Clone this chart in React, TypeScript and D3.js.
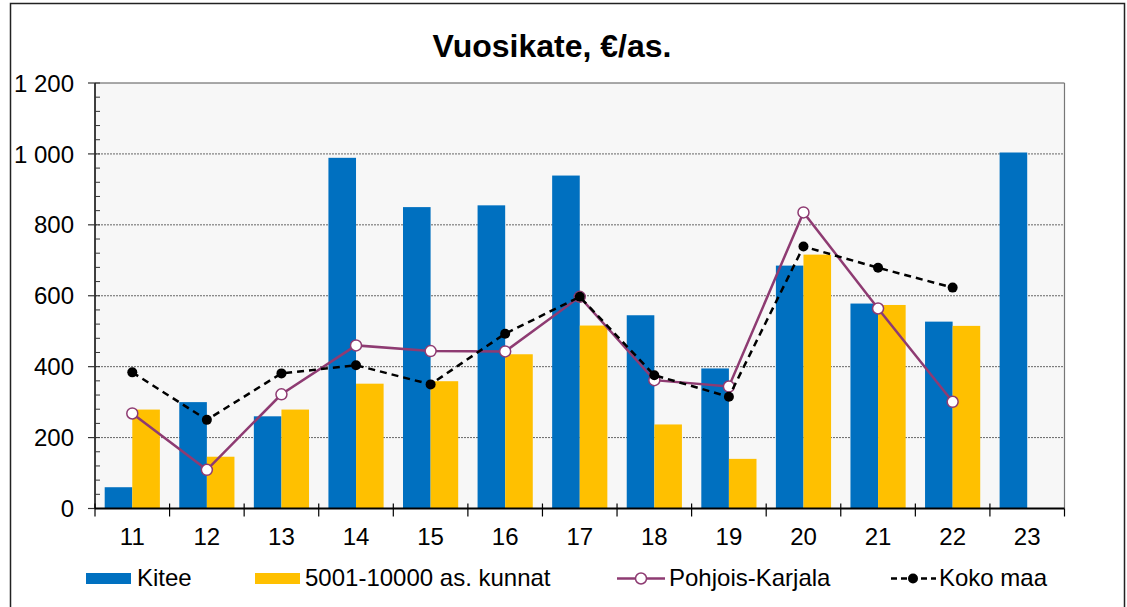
import React from "react";
import * as d3 from "d3";

const categories = ["11", "12", "13", "14", "15", "16", "17", "18", "19", "20", "21", "22", "23"];
const kitee: (number | null)[] = [60, 300, 260, 989, 850, 855, 939, 545, 395, 685, 578, 527, 1004];
const kunnat: (number | null)[] = [279, 146, 279, 352, 359, 435, 516, 237, 140, 716, 574, 515, null];
const pohjoisKarjala: (number | null)[] = [268, 109, 322, 460, 444, 443, 597, 362, 344, 835, 564, 301, null];
const kokoMaa: (number | null)[] = [384, 250, 381, 404, 350, 493, 597, 376, 315, 739, 679, 623, null];
const yTicks = [0, 200, 400, 600, 800, 1000, 1200];
const yMinorTicks = d3.range(0, 1201, 40);

const W = 1127;
const H = 607;
const left = 95;
const right = 1064.5;
const top = 83;
const bottom = 508.5;

const BLUE = "#0070C0";
const YELLOW = "#FFC000";
const PURPLE = "#8E3B72";
const FONT = "Liberation Sans, Arial, sans-serif";
const FS = 24;

const fmt = (v: number) => {
  const s = String(v);
  return s.length > 3 ? s.slice(0, s.length - 3) + " " + s.slice(-3) : s;
};

export default function App() {
  const x = d3.scaleBand<string>().domain(categories).range([left, right]).paddingInner(0.26).paddingOuter(0.13);
  const y = d3.scaleLinear().domain([0, 1200]).range([bottom, top]);
  const step = x.step();
  const bw = x.bandwidth() / 2;
  const cx = (c: string) => (x(c) as number) + x.bandwidth() / 2;

  const lineGen = d3
    .line<{ c: string; v: number | null }>()
    .defined((d) => d.v !== null)
    .x((d) => cx(d.c))
    .y((d) => y(d.v as number));

  const pkData = categories.map((c, i) => ({ c, v: pohjoisKarjala[i] }));
  const kmData = categories.map((c, i) => ({ c, v: kokoMaa[i] }));

  const boundaries = d3.range(categories.length + 1).map((i) => left + i * step);

  return (
    <svg width={W} height={H} style={{ position: "absolute", left: 0, top: 0, background: "#fff" }} fontFamily={FONT}>
      {/* outer border */}
      <rect x={10.5} y={3.5} width={1114} height={620} fill="#fff" stroke="#222" strokeWidth={1.5} />
      {/* title */}
      <text x={552} y={57} textAnchor="middle" fontSize={32} fontWeight="bold" fill="#000">
        Vuosikate, €/as.
      </text>
      {/* plot background */}
      <rect x={left} y={top} width={right - left} height={bottom - top} fill="#f7f7f7" />
      {/* gridlines */}
      {yTicks.filter((t) => t > 0 && t < 1200).map((t) => (
        <line key={"g" + t} x1={left} x2={right} y1={y(t)} y2={y(t)} stroke="#666" strokeWidth={1} strokeDasharray="2,1" />
      ))}
      {/* plot border top/right */}
      <line x1={left} x2={right} y1={top} y2={top} stroke="#555" strokeWidth={1.2} />
      <line x1={right} x2={right} y1={top} y2={bottom} stroke="#777" strokeWidth={1.2} />
      {/* bars */}
      {categories.map((c, i) => (
        <g key={"b" + c}>
          {kitee[i] !== null && (
            <rect x={x(c)} y={y(kitee[i] as number)} width={bw} height={bottom - y(kitee[i] as number)} fill={BLUE} />
          )}
          {kunnat[i] !== null && (
            <rect x={(x(c) as number) + bw} y={y(kunnat[i] as number)} width={bw} height={bottom - y(kunnat[i] as number)} fill={YELLOW} />
          )}
        </g>
      ))}
      {/* y axis */}
      <line x1={left} x2={left} y1={top} y2={bottom} stroke="#000" strokeWidth={1.5} />
      {yMinorTicks.map((t) => (
        <line key={"m" + t} x1={left} x2={left + 5} y1={y(t)} y2={y(t)} stroke="#333" strokeWidth={1} />
      ))}
      {yTicks.map((t) => (
        <g key={"yt" + t}>
          <line x1={left - 7} x2={left} y1={y(t)} y2={y(t)} stroke="#333" strokeWidth={1.2} />
          <text x={74} y={y(t)} dy="0.36em" textAnchor="end" fontSize={FS} fill="#000">
            {fmt(t)}
          </text>
        </g>
      ))}
      {/* x axis */}
      <line x1={left} x2={right} y1={bottom} y2={bottom} stroke="#000" strokeWidth={2} />
      {boundaries.map((bx, i) => (
        <line key={"xt" + i} x1={bx} x2={bx} y1={i === categories.length ? bottom : bottom - 5} y2={bottom + 8} stroke="#000" strokeWidth={1.2} />
      ))}
      {categories.map((c) => (
        <text key={"xl" + c} x={cx(c)} y={545} textAnchor="middle" fontSize={FS} fill="#000">
          {c}
        </text>
      ))}
      {/* Pohjois-Karjala line */}
      <path d={lineGen(pkData) || ""} fill="none" stroke={PURPLE} strokeWidth={2.5} />
      {pkData.filter((d) => d.v !== null).map((d) => (
        <circle key={"pk" + d.c} cx={cx(d.c)} cy={y(d.v as number)} r={5.5} fill="#fff" stroke={PURPLE} strokeWidth={1.5} />
      ))}
      {/* Koko maa line */}
      <path d={lineGen(kmData) || ""} fill="none" stroke="#000" strokeWidth={2.5} strokeDasharray="7,5" />
      {kmData.filter((d) => d.v !== null).map((d) => (
        <circle key={"km" + d.c} cx={cx(d.c)} cy={y(d.v as number)} r={5} fill="#000" />
      ))}
      {/* legend */}
      <g fontSize={FS} fill="#000">
        <rect x={86} y={573} width={45} height={11} fill={BLUE} />
        <text x={137} y={586}>Kitee</text>
        <rect x={255} y={573} width={45} height={11} fill={YELLOW} />
        <text x={305} y={586}>5001-10000 as. kunnat</text>
        <line x1={617} x2={665} y1={578.5} y2={578.5} stroke={PURPLE} strokeWidth={2.5} />
        <circle cx={641} cy={578.5} r={5.5} fill="#fff" stroke={PURPLE} strokeWidth={1.5} />
        <text x={669} y={586}>Pohjois-Karjala</text>
        <line x1={891} x2={936} y1={578.5} y2={578.5} stroke="#000" strokeWidth={2.5} strokeDasharray="6,4" />
        <circle cx={913} cy={578.5} r={5} fill="#000" />
        <text x={939} y={586}>Koko maa</text>
      </g>
    </svg>
  );
}
